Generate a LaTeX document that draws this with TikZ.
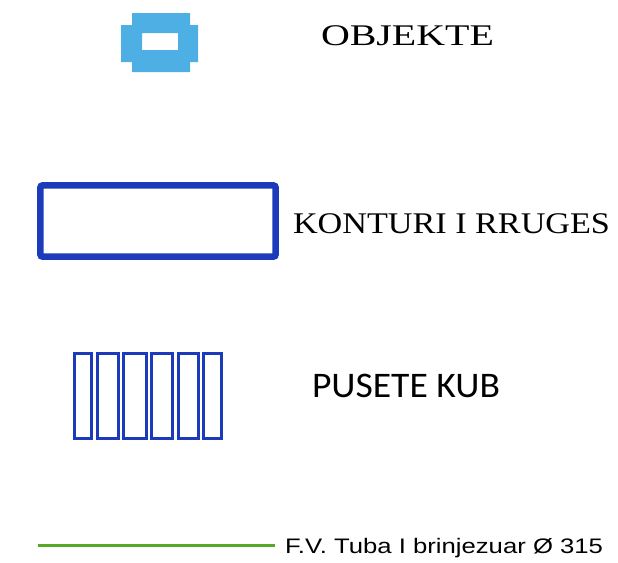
\documentclass[tikz,border=0pt]{standalone}
\usepackage{fontspec}
\usepackage{graphicx}
\newfontfamily\serifA{Liberation Serif}
\newfontfamily\sansA{Carlito}
\newfontfamily\sansB{Liberation Sans}
\definecolor{objblue}{RGB}{77,175,228}
\definecolor{roadblue}{RGB}{28,58,188}
\definecolor{pipegreen}{RGB}{86,168,40}
\begin{document}
\begin{tikzpicture}[x=1pt,y=-1pt,
  lbl/.style={anchor=base west,inner sep=0pt,outer sep=0pt},
  roadline/.style={draw=roadblue,line width=6.5pt,rounded corners=2.5pt},
  kubline/.style={draw=roadblue,line width=3pt},
  pipeline/.style={draw=pipegreen,line width=3pt}]
\useasboundingbox (0,0) rectangle (618,562);
% OBJEKTE symbol
\fill[objblue,even odd rule]
  (132,13) -- (190,13) -- (190,25) -- (198,25) -- (198,62) -- (190,62) -- (190,72) -- (132,72) -- (132,62) -- (121,62) -- (121,25) -- (132,25) -- cycle
  (142,33) rectangle (178,50);
\node[lbl] (objekte) at (321,45) {\resizebox{173pt}{\height}{\fontsize{30}{32}\serifA OBJEKTE}};
% KONTURI I RRUGES symbol
\draw[roadline] (40.3,185.3) rectangle (275.7,256.7);
\node[lbl] (kontur) at (293,233) {\resizebox{317pt}{\height}{\fontsize{30}{32}\serifA KONTURI I RRUGES}};
% PUSETE KUB symbol
\foreach \a/\b in {73/93,95.5/120,122/147.5,149.5/174,176.5/200,202/223}{
  \draw[kubline] (\a+1.5,353.5) rectangle (\b-1.5,438.5);
}
\node[lbl] (pusete) at (312,397) {\resizebox{188pt}{\height}{\fontsize{36}{38}\sansA PUSETE KUB}};
% pipe line
\coordinate (p1) at (38,545);
\coordinate (p2) at (275,545);
\draw[pipeline] (p1) -- (p2);
\node[lbl] (tuba) at (285,553) {\resizebox{318pt}{\height}{\fontsize{21}{23}\sansB F.V. Tuba I brinjezuar Ø 315}};
\end{tikzpicture}
\end{document}
